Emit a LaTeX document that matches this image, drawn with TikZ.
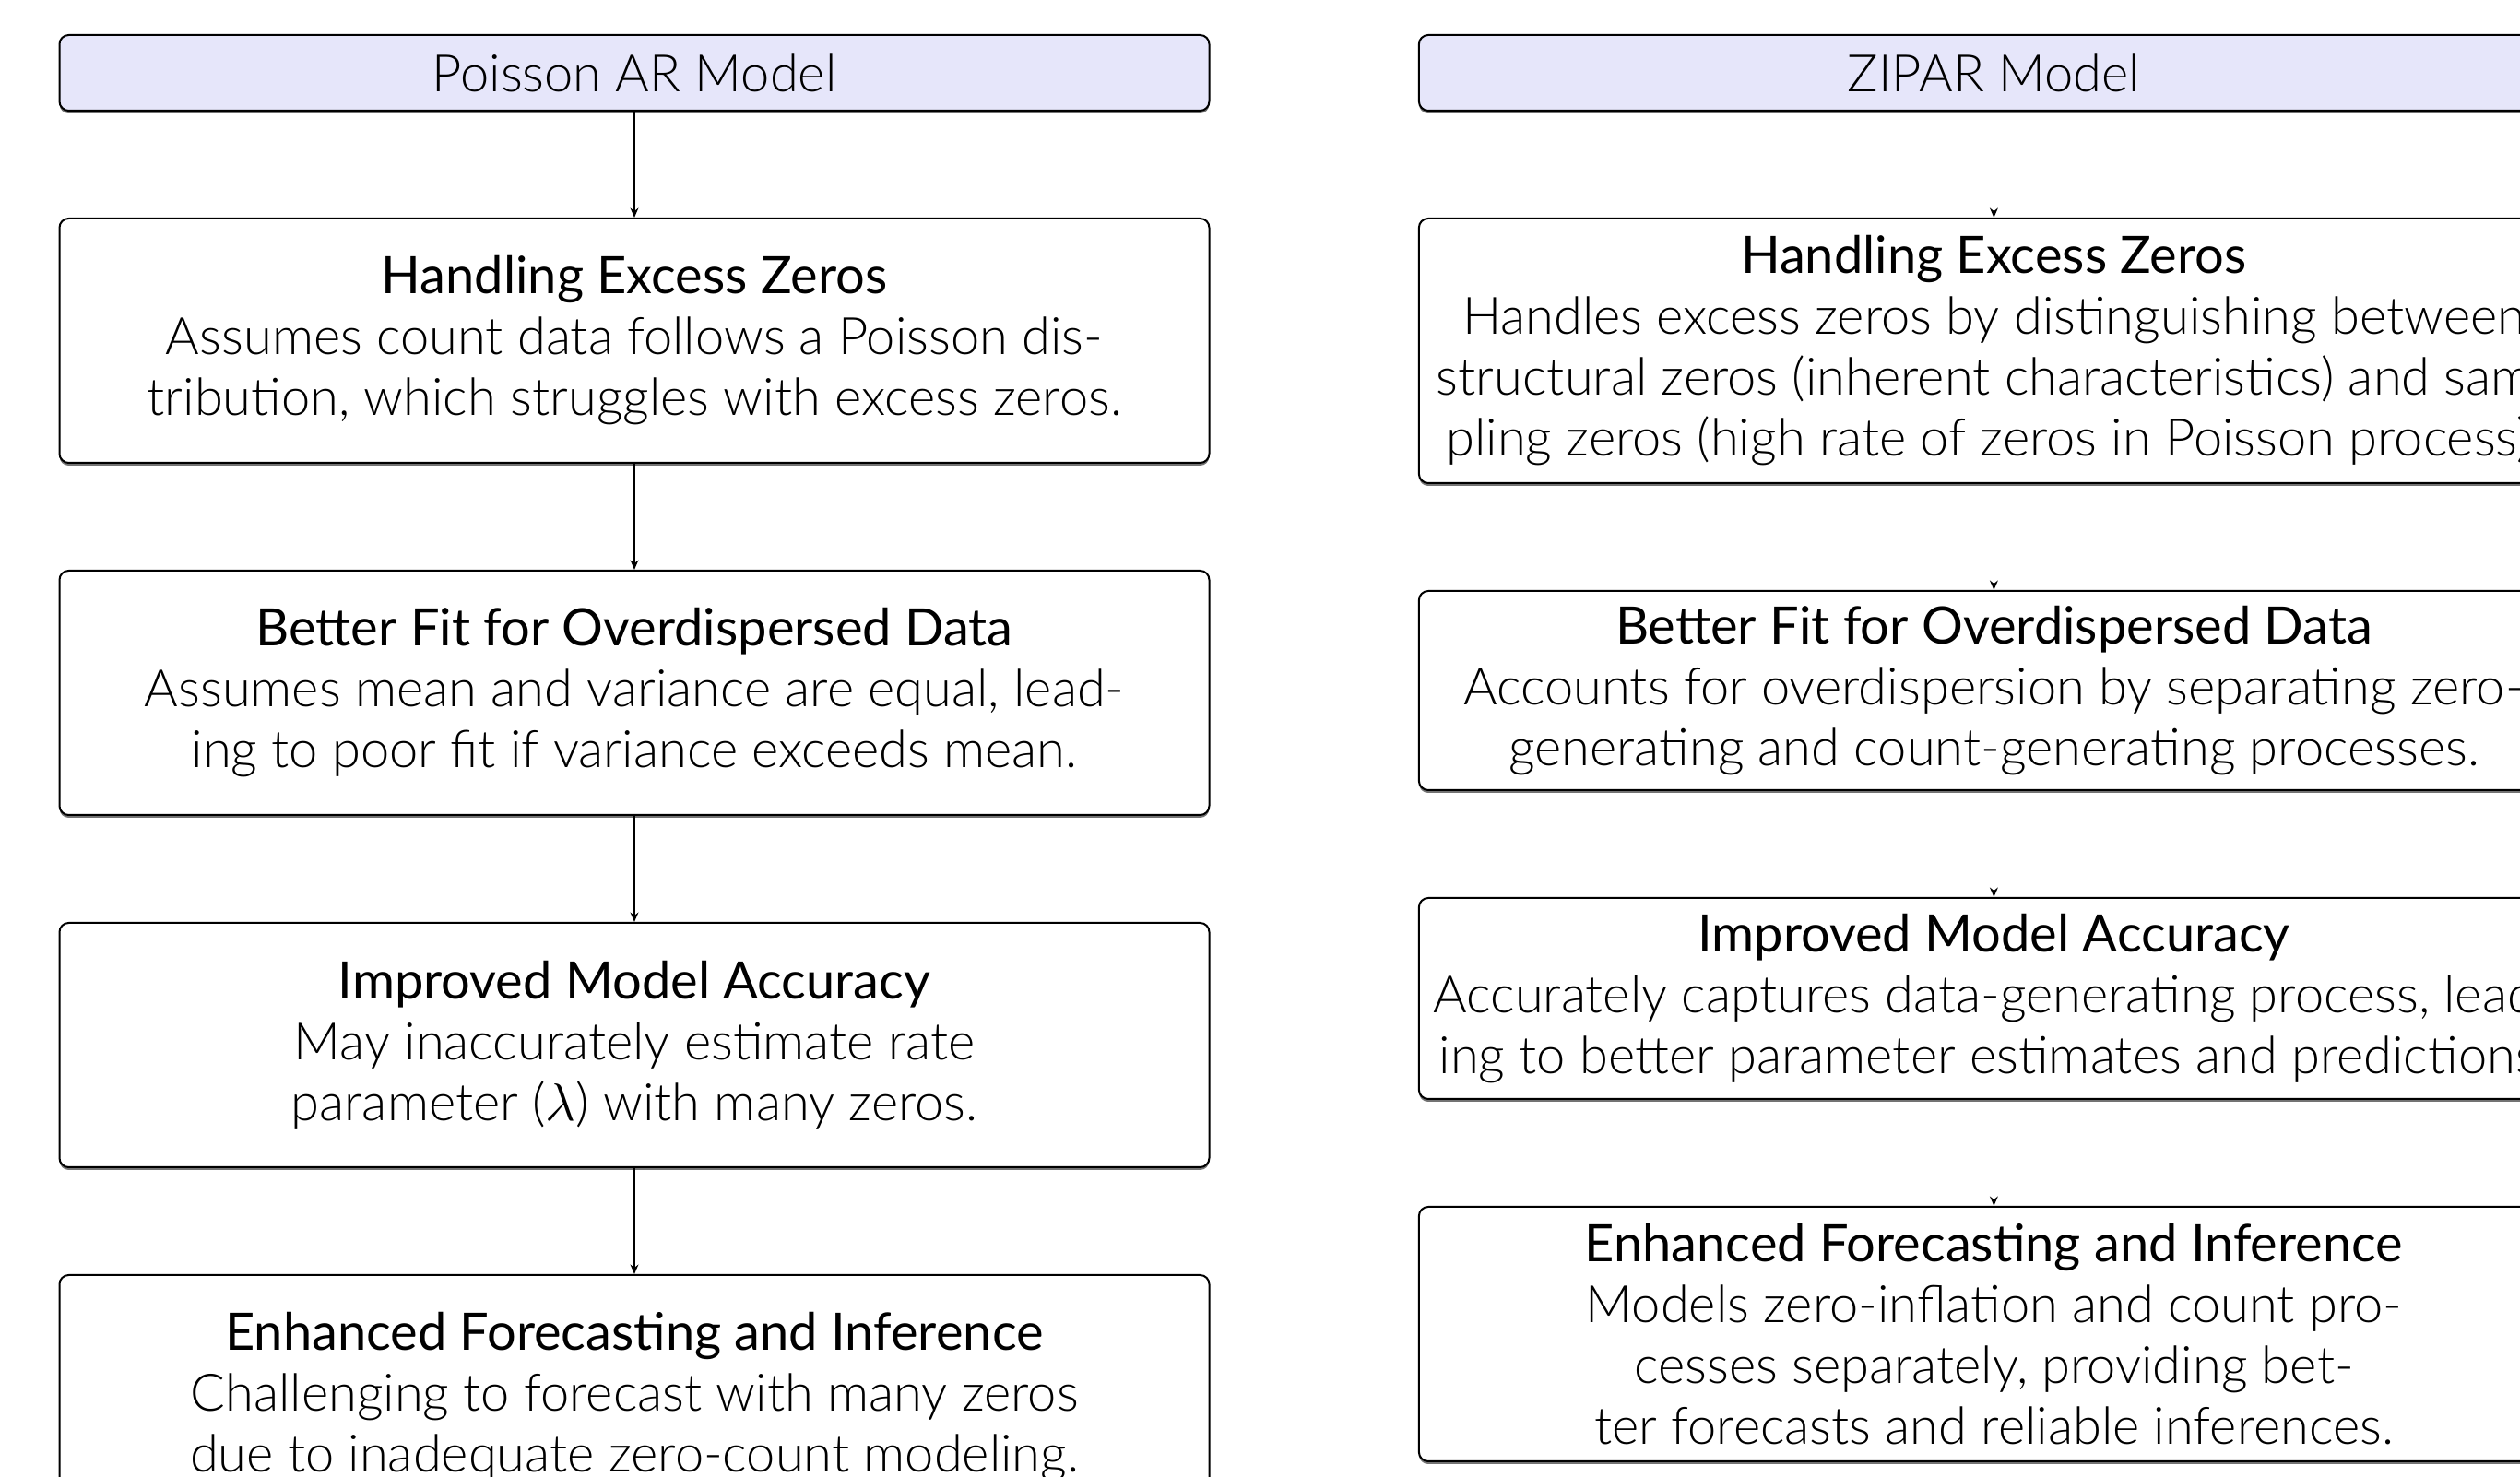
\documentclass[tikz,border=0pt]{standalone}
\usepackage{fontspec}
\setmainfont{Lato Light}[BoldFont={Lato}]
\newfontfamily\headfont{Lato}
\usetikzlibrary{positioning,arrows.meta,shadows}
\definecolor{hdrfill}{RGB}{230,230,250}
\tikzset{
  basebox/.style={rectangle, rounded corners=2.5pt, draw=black, line width=0.5pt,
    minimum width=311.75pt, align=center, inner sep=2pt,
    font={\fontsize{14pt}{16.5pt}\selectfont},
    drop shadow={shadow xshift=0pt, shadow yshift=-0.75pt, fill=black!55, opacity=1}},
  hdrbox/.style={basebox, fill=hdrfill, minimum height=20.5pt},
  infobox/.style={basebox, fill=white},
  flow/.style={-{Stealth[length=2.6pt,width=2.2pt]}, line width=0.45pt, black},
}
\begin{document}
\begin{tikzpicture}[node distance=28.75pt]
\useasboundingbox (0,0) rectangle (683.25pt,-400.5pt);
% left column
\node[hdrbox] (lh) at (172pt,-19.75pt) {Poisson AR Model};
\node[infobox, minimum height=66.25pt, below=of lh] (l1) {{\headfont Handling Excess Zeros}\\Assumes count data follows a Poisson dis-\\tribution, which struggles with excess zeros.};
\node[infobox, minimum height=66.25pt, below=of l1] (l2) {{\headfont Better Fit for Overdispersed Data}\\Assumes mean and variance are equal, lead-\\ing to poor fit if variance exceeds mean.};
\node[infobox, minimum height=66.25pt, below=of l2] (l3) {{\headfont Improved Model Accuracy}\\May inaccurately estimate rate\\parameter ($\lambda$) with many zeros.};
\node[infobox, minimum height=66.25pt, below=of l3] (l4) {{\headfont Enhanced Forecasting and Inference}\\Challenging to forecast with many zeros\\due to inadequate zero-count modeling.};
% right column
\node[hdrbox] (rh) at (540.6pt,-19.75pt) {ZIPAR Model};
\node[infobox, minimum height=71.75pt, below=of rh] (r1) {{\headfont Handling Excess Zeros}\\Handles excess zeros by distinguishing between\\structural zeros (inherent characteristics) and sam-\\pling zeros (high rate of zeros in Poisson process).};
\node[infobox, minimum height=54pt, below=of r1] (r2) {{\headfont Better Fit for Overdispersed Data}\\Accounts for overdispersion by separating zero-\\generating and count-generating processes.};
\node[infobox, minimum height=54.5pt, below=of r2] (r3) {{\headfont Improved Model Accuracy}\\Accurately captures data-generating process, lead-\\ing to better parameter estimates and predictions.};
\node[infobox, minimum height=69pt, below=of r3] (r4) {{\headfont Enhanced Forecasting and Inference}\\Models zero-inflation and count pro-\\cesses separately, providing bet-\\ter forecasts and reliable inferences.};
% connectors
\draw[flow] (lh) -- (l1);
\draw[flow] (l1) -- (l2);
\draw[flow] (l2) -- (l3);
\draw[flow] (l3) -- (l4);
\draw[flow] (rh) -- (r1);
\draw[flow] (r1) -- (r2);
\draw[flow] (r2) -- (r3);
\draw[flow] (r3) -- (r4);
\end{tikzpicture}
\end{document}
